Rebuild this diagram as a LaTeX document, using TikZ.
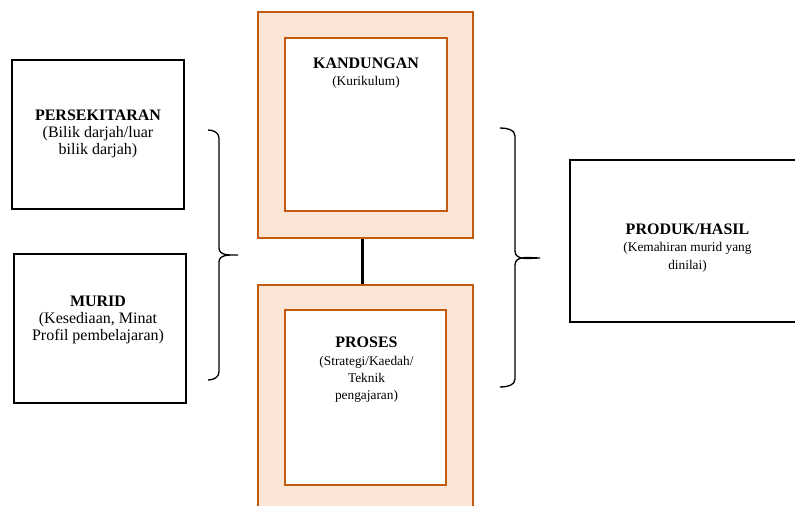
\documentclass[tikz,border=0pt]{standalone}
\usepackage{fontspec}
\setmainfont{Liberation Serif}
\usetikzlibrary{positioning}
\definecolor{boxorange}{HTML}{C55A11}
\definecolor{boxpeach}{HTML}{FBE5D6}
\tikzset{
    plainbox/.style={draw=black, line width=1.3pt, inner sep=0pt},
    outerbox/.style={draw=boxorange, fill=boxpeach, line width=1.4pt, inner sep=0pt},
    innerbox/.style={draw=boxorange, fill=white, line width=1.4pt, inner sep=0pt},
    boxtext/.style={align=center, inner sep=0pt, font=\fontsize{12}{13}\selectfont},
    bracket/.style={draw=black, line width=1pt}
}
\newcommand{\subline}[1]{{\fontsize{10}{12}\selectfont #1}}
\begin{document}
\begin{tikzpicture}[x=0.75pt, y=-0.75pt]
    \useasboundingbox (0,0) rectangle (795,506);

    % left boxes
    \node[plainbox, minimum width=172*0.75pt, minimum height=149*0.75pt] (persekitaran) at (98,134.5) {};
    \node[plainbox, minimum width=172*0.75pt, minimum height=149*0.75pt] (murid) at (100,328.5) {};
    \node[boxtext] (persekitarantext) at (98,134) {\textbf{PERSEKITARAN}\\(Bilik darjah/luar\\bilik darjah)};
    \node[boxtext] (muridtext) at (98,320) {\textbf{MURID}\\(Kesediaan, Minat\\Profil pembelajaran)};

    % middle boxes
    \node[outerbox, minimum width=215*0.75pt, minimum height=226*0.75pt] (kandunganouter) at (365.5,125) {};
    \node[innerbox, minimum width=162*0.75pt, minimum height=173*0.75pt] (kandunganinner) at (366,124.5) {};
    \node[outerbox, minimum width=215*0.75pt, minimum height=245*0.75pt] (prosesouter) at (365.5,407.5) {};
    \node[innerbox, minimum width=161*0.75pt, minimum height=175*0.75pt] (prosesinner) at (365.5,397.5) {};
    \node[boxtext] (kandungantext) at (366,73) {\textbf{KANDUNGAN}\\\subline{(Kurikulum)}};
    \node[boxtext] (prosestext) at (366.5,370) {\textbf{PROSES}\\\subline{(Strategi/Kaedah/}\\\subline{Teknik}\\\subline{pengajaran)}};
    \draw[line width=2.2pt] ([xshift=-2.6pt]kandunganouter.south) -- ([xshift=-2.6pt]prosesouter.north);

    % right box
    \node[plainbox, minimum width=235*0.75pt, minimum height=162*0.75pt] (produk) at (687.5,241) {};
    \node[boxtext] (produktext) at (687.5,248) {\textbf{PRODUK/HASIL}\\\subline{(Kemahiran murid yang}\\\subline{dinilai)}};

    % brackets
    \coordinate (lefttip) at (238,255);
    \coordinate (righttip) at (540,258);
    \path[bracket] (208,130) to[out=0,in=90] (219,138) -- (219,248) to[out=-90,in=180] (lefttip)
                   (208,380) to[out=0,in=-90] (219,372) -- (219,262) to[out=90,in=180] (lefttip);
    \path[bracket] (500,128) to[out=0,in=90] (515,136) -- (515,251) to[out=-90,in=180] (righttip)
                   (500,387) to[out=0,in=-90] (515,379) -- (515,265) to[out=90,in=180] (righttip);

\end{tikzpicture}
\end{document}
